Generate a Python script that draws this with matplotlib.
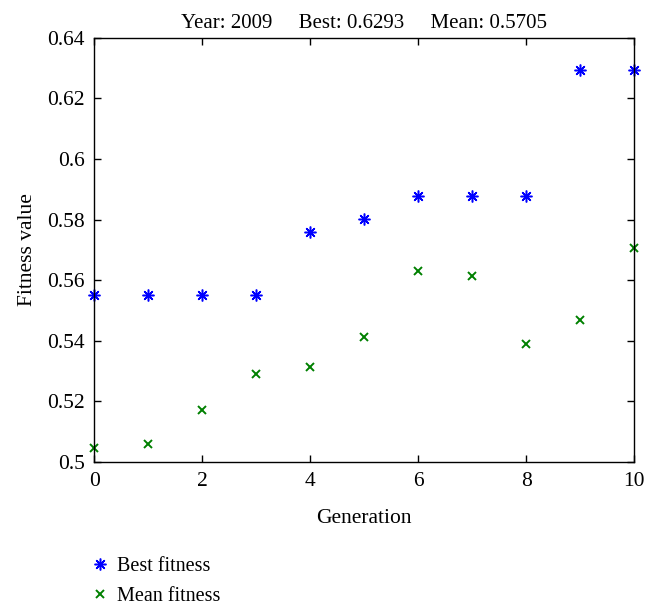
#!/usr/bin/env python3
"""Fitness per generation: best and mean values (scatter, MATLAB style)."""

import matplotlib

matplotlib.use("Agg")

import matplotlib.pyplot as plt

generations = [0, 1, 2, 3, 4, 5, 6, 7, 8, 9, 10]
best_fitness = [0.5550, 0.5550, 0.5550, 0.5550, 0.5758, 0.5801, 0.5879, 0.5879, 0.5879, 0.6293, 0.6293]
mean_fitness = [0.5046, 0.5058, 0.5173, 0.5292, 0.5313, 0.5411, 0.5629, 0.5613, 0.5390, 0.5467, 0.5705]

x_ticks = [0, 2, 4, 6, 8, 10]
y_ticks = [0.5, 0.52, 0.54, 0.56, 0.58, 0.6, 0.62, 0.64]
y_tick_labels = ["0.5", "0.52", "0.54", "0.56", "0.58", "0.6", "0.62", "0.64"]

plt.rcParams.update(
    {
        "font.family": ["Liberation Serif", "DejaVu Serif"],
        "font.size": 15.5,
        "axes.linewidth": 1.0,
    }
)

# MATLAB-like asterisk: eight arms
ASTERISK = (8, 2, 0)

fig = plt.figure(figsize=(6.58, 6.12), dpi=100)
ax = fig.add_axes([0.1433, 0.2451, 0.8207, 0.6933])

ax.plot(generations, best_fitness, ls="none", marker=ASTERISK, ms=8.5, color="#0000ff",
        markeredgewidth=1.1, label="Best fitness", clip_on=False)
ax.plot(generations, mean_fitness, ls="none", marker="x", ms=6, color="#008000",
        markeredgewidth=1.4, label="Mean fitness", clip_on=False)

ax.set_xlim(0, 10)
ax.set_ylim(0.5, 0.64)
ax.set_xticks(x_ticks)
ax.set_yticks(y_ticks)
ax.set_yticklabels(y_tick_labels)
ax.tick_params(direction="in", top=True, right=True, length=5, width=1.0)
ax.tick_params(axis="x", pad=7)
ax.tick_params(axis="y", pad=7)

ax.set_xlabel("Generation", labelpad=13)
ax.set_ylabel("Fitness value", labelpad=7)
ax.set_title("Year: 2009     Best: 0.6293     Mean: 0.5705", fontsize=15, pad=7)

fig.legend(
    loc="upper left",
    bbox_to_anchor=(0.124, 0.103),
    frameon=False,
    fontsize=14.5,
    handletextpad=0.35,
    handlelength=1.0,
    labelspacing=0.55,
    borderaxespad=0.0,
)

fig.savefig("out.png", dpi=100)
